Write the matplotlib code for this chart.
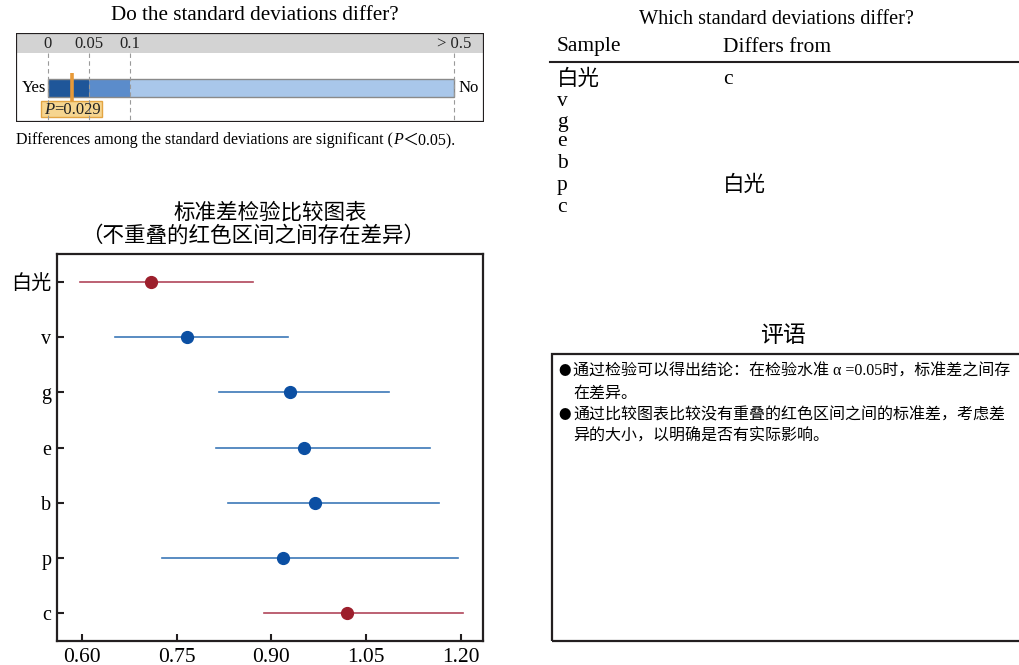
import numpy as np
import matplotlib
matplotlib.use("Agg")
import matplotlib.pyplot as plt
from matplotlib.patches import Rectangle

plt.rcParams["font.family"] = ["Liberation Serif", "Noto Sans CJK SC", "DejaVu Sans"]
plt.rcParams["text.parse_math"] = False

# summary test
p_value = 0.029
p_marks = [0, 0.05, 0.1, 0.5]
p_mark_labels = ["0", "0.05", "0.1", "> 0.5"]
band_colors = ["#1f5699", "#5b8ccb", "#a9c7ea"]

# comparison chart: std dev estimates and intervals
samples = ["白光", "v", "g", "e", "b", "p", "c"]
sd_est = [0.710, 0.766, 0.929, 0.951, 0.969, 0.918, 1.020]
ci_low = [0.597, 0.652, 0.817, 0.812, 0.832, 0.726, 0.889]
ci_high = [0.871, 0.927, 1.086, 1.151, 1.166, 1.195, 1.203]
differs = [True, False, False, False, False, False, True]
x_ticks = [0.60, 0.75, 0.90, 1.05, 1.20]

# pairwise table
table_rows = ["白光", "v", "g", "e", "b", "p", "c"]
table_differs = ["c", "", "", "", "", "白光", ""]

comments = [
    ("●", "通过检验可以得出结论：在检验水准 α =0.05时，标准差之间存"),
    ("", "在差异。"),
    ("●", "通过比较图表比较没有重叠的红色区间之间的标准差，考虑差"),
    ("", "异的大小，以明确是否有实际影响。"),
]

W, H = 1019, 665
fig = plt.figure(figsize=(W / 100, H / 100), dpi=100)
DARK = "#231f20"
CJK = ["Noto Sans CJK SC", "DejaVu Sans"]


def px_axes(x0, y0, x1, y1):
    return fig.add_axes([x0 / W, 1 - y1 / H, (x1 - x0) / W, (y1 - y0) / H])


def ftext(x, y, s, **kw):
    return fig.text(x / W, 1 - y / H, s, **kw)


def chain(prev, s, **kw):
    # continue a line of text right after the previous piece
    return fig.axes[0].annotate(s, xy=(1, 0), xycoords=prev, va="bottom", ha="left", **kw)


# ---- p-value bar ----
ax = px_axes(16, 33, 484, 122)
ax.set_xlim(16, 484)
ax.set_ylim(122, 33)
ax.axis("off")
mark_px = [48, 89, 130, 454]


def p_to_x(p):
    return np.interp(p, p_marks, mark_px)


ax.add_patch(Rectangle((16, 33), 468, 20, facecolor="#d3d3d3", edgecolor="none"))
for pm, lab in zip(p_marks, p_mark_labels):
    xp = p_to_x(pm)
    ax.plot([xp, xp], [53, 122], color="#9a9a9a", lw=0.8, ls=(0, (4, 3)))
    ax.text(xp, 44, lab, ha="center", va="center", fontsize=12, color="#222222")
for i, c in enumerate(band_colors):
    x0, x1 = p_to_x(p_marks[i]), p_to_x(p_marks[i + 1])
    ax.add_patch(Rectangle((x0, 79), x1 - x0, 18, facecolor=c, edgecolor="none"))
ax.add_patch(Rectangle((p_to_x(0), 79), p_to_x(0.5) - p_to_x(0), 18,
                       facecolor="none", edgecolor="#8a8a8a", lw=1))
xp = p_to_x(p_value)
ax.plot([xp, xp], [73, 101], color="#e89a38", lw=2.6, solid_capstyle="butt")
ax.add_patch(Rectangle((41, 101), 61, 16, facecolor="#f6d58f", edgecolor="#e3a544", lw=1))
t = ax.text(44, 110, "P", ha="left", va="center", fontsize=12, style="italic", color="#222222")
ax.annotate(f"={p_value:.3f}", xy=(1, 0.5), xycoords=t, ha="left", va="center",
            fontsize=12, color="#222222")
ax.text(46, 88, "Yes", ha="right", va="center", fontsize=12)
ax.text(459, 88, "No", ha="left", va="center", fontsize=12)
ax.add_patch(Rectangle((16, 33), 468, 89, facecolor="none", edgecolor=DARK, lw=1.6))

ftext(255, 16, "Do the standard deviations differ?", ha="center", va="center", fontsize=15.2)
t = ftext(16, 140, "Differences among the standard deviations are significant (",
          ha="left", va="center", fontsize=11.5)
t = chain(t, "P", fontsize=11.5, style="italic")
chain(t, "＜0.05).", fontsize=11.5)

# ---- comparison chart ----
ax2 = px_axes(57, 254, 483, 641)
y = np.arange(len(samples))
for yi, m, lo, hi, red in zip(y, sd_est, ci_low, ci_high, differs):
    lc = "#b0465a" if red else "#3c78b8"
    mc = "#9c1f2c" if red else "#0b4fa3"
    ax2.plot([lo, hi], [yi, yi], color=lc, lw=1.2, zorder=2)
    ax2.plot(m, yi, "o", color=mc, ms=8.5, zorder=3)
ax2.set_xlim(0.5605, 1.235)
ax2.set_ylim(len(samples) - 0.5, -0.5)
ax2.set_yticks(y)
ax2.set_yticklabels(samples)
ax2.set_xticks(x_ticks)
ax2.set_xticklabels([f"{t:.2f}" for t in x_ticks])
ax2.tick_params(direction="in", length=5, width=1.5, color=DARK)
ax2.tick_params(axis="x", pad=5, labelsize=15.5)
ax2.tick_params(axis="y", pad=4, labelsize=14.5)
for s in ax2.spines.values():
    s.set_linewidth(1.6)
    s.set_color(DARK)
ftext(270, 213, "标准差检验比较图表", ha="center", va="center", fontsize=15.5)
ftext(253, 236, "（不重叠的红色区间之间存在差异）", ha="center", va="center", fontsize=15.5)

# ---- pairwise table ----
ftext(776, 20, "Which standard deviations differ?", ha="center", va="center", fontsize=14.6)
ftext(557, 47, "Sample", ha="left", va="center", fontsize=15.5)
ftext(723, 47, "Differs from", ha="left", va="center", fontsize=15.5)
fig.add_artist(plt.Line2D([550 / W, 1], [1 - 62 / H, 1 - 62 / H], color=DARK, lw=1.5))
row_y = [80, 101, 122, 142, 163, 186, 207]
for ry, s, d in zip(row_y, table_rows, table_differs):
    ftext(557, ry, s, ha="left", va="center", fontsize=15.5)
    if d:
        ftext(723, ry, d, ha="left", va="center", fontsize=15.5)

# ---- comments ----
ftext(783, 336, "评语", ha="center", va="center", fontsize=16.5)
fig.add_artist(Rectangle((552 / W, 1 - 641 / H), (W + 5 - 552) / W, (641 - 354) / H,
                         transform=fig.transFigure, facecolor="none", edgecolor=DARK, lw=1.6))
for i, (bullet, line) in enumerate(comments):
    ly = 372 + i * 21.5
    if bullet:
        ftext(558, ly, bullet, ha="left", va="center", fontsize=9, family=CJK)
    ftext(573, ly, line, ha="left", va="center", fontsize=11.5)

fig.savefig("out.png", dpi=100)
